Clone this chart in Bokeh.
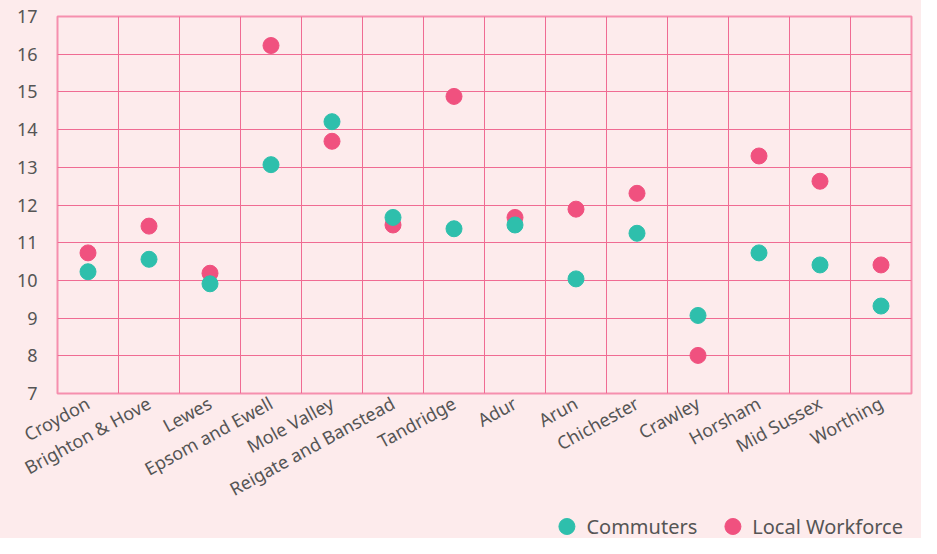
import math
from bokeh.plotting import figure
from bokeh.layouts import column
from bokeh.models import FactorRange, FixedTicker, Range1d, Legend, LegendItem, ColumnDataSource
from bokeh.embed import file_html
from bokeh.resources import INLINE

categories = ["Croydon", "Brighton & Hove", "Lewes", "Epsom and Ewell", "Mole Valley",
              "Reigate and Banstead", "Tandridge", "Adur", "Arun", "Chichester",
              "Crawley", "Horsham", "Mid Sussex", "Worthing"]
commuters = [10.23, 10.56, 9.91, 13.07, 14.21, 11.67, 11.37, 11.47, 10.04, 11.25, 9.07, 10.73, 10.41, 9.32]
local_workforce = [10.73, 11.44, 10.19, 16.23, 13.69, 11.47, 14.88, 11.67, 11.89, 12.31, 8.01, 13.30, 12.63, 10.41]
y_ticks = [7, 8, 9, 10, 11, 12, 13, 14, 15, 16, 17]
series_names = ["Commuters", "Local Workforce"]

BG = "#fdebec"
GRID = "#f06b93"
OUTLINE = "#f68fae"
TEXT = "#555555"
FONT = "Noto Sans"
TEAL = "#2ebfac"
PINK = "#f0517f"

src = ColumnDataSource(dict(cat=categories, com=commuters, loc=local_workforce))

p = figure(width=921, height=514, x_range=FactorRange(*categories, range_padding=0),
           y_range=Range1d(7, 17), output_backend="svg", toolbar_location=None,
           min_border_left=57, min_border_right=10, min_border_top=16, min_border_bottom=60)
p.background_fill_color = BG
p.border_fill_color = BG
p.outline_line_color = OUTLINE
p.outline_line_width = 2

p.scatter("cat", "loc", source=src, size=16, color=PINK)
p.scatter("cat", "com", source=src, size=16, color=TEAL)

p.xgrid.ticker = FixedTicker(ticks=list(range(len(categories) + 1)))
p.xgrid.grid_line_color = GRID
p.ygrid.grid_line_color = GRID
p.yaxis.ticker = FixedTicker(ticks=y_ticks)

for ax in (p.xaxis[0], p.yaxis[0]):
    ax.axis_line_color = None
    ax.major_tick_line_color = None
    ax.minor_tick_line_color = None
    ax.major_label_text_font = FONT
    ax.major_label_text_color = TEXT

p.xaxis.major_label_text_font_size = "18px"
p.yaxis.major_label_text_font_size = "18px"
p.xaxis.major_label_orientation = 0.5
p.xaxis.major_label_standoff = 2
p.yaxis.major_label_standoff = 14

# legend strip below the chart (legend swatches only, no visible data)
lf = figure(width=921, height=24, x_range=Range1d(0, 1), y_range=Range1d(0, 1),
            output_backend="svg", toolbar_location=None,
            min_border_left=0, min_border_right=0, min_border_top=0, min_border_bottom=0)
lf.axis.visible = False
lf.grid.visible = False
lf.outline_line_color = None
lf.background_fill_color = BG
lf.border_fill_color = BG
nan = float("nan")
l_com = lf.scatter(x=[nan], y=[nan], size=16, color=TEAL)
l_loc = lf.scatter(x=[nan], y=[nan], size=16, color=PINK)

legend = Legend(items=[LegendItem(label=series_names[0], renderers=[l_com]),
                       LegendItem(label=series_names[1], renderers=[l_loc])],
                orientation="horizontal", location="right",
                background_fill_alpha=0, border_line_color=None,
                label_text_font=FONT, label_text_font_size="20px", label_text_color=TEXT,
                glyph_width=40, glyph_height=40, spacing=15, padding=0, margin=8,
                label_standoff=0)
lf.add_layout(legend)

layout = column(p, lf, spacing=0, styles={"background-color": BG})
open("out.html", "w").write(file_html(layout, INLINE))
